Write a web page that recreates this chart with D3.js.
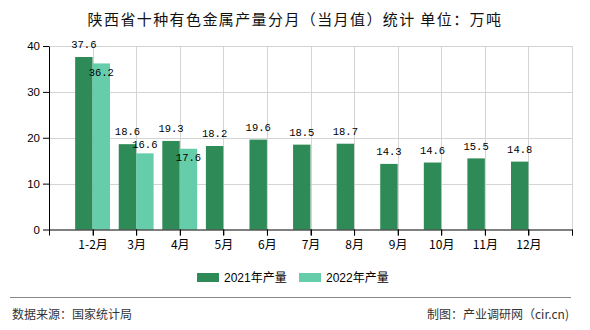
<!DOCTYPE html>
<html><head><meta charset="utf-8">
<script src="https://cdn.jsdelivr.net/npm/d3@7"></script>
<style>
body{margin:0;background:#fff;}
svg{display:block;}
text{font-family:"Liberation Sans","Noto Sans CJK SC",sans-serif;}
text.val{font-family:"Liberation Mono","DejaVu Sans Mono",monospace;font-size:10.5px;}
</style></head>
<body><svg id="c" width="590" height="330"></svg>
<script>
const categories = ["1-2月","3月","4月","5月","6月","7月","8月","9月","10月","11月","12月"];
const values2021 = [37.6,18.6,19.3,18.2,19.6,18.5,18.7,14.3,14.6,15.5,14.8];
const values2022 = [36.2,16.6,17.6,null,null,null,null,null,null,null,null];
const seriesNames = ["2021年产量","2022年产量"];
const yTicks = [0,10,20,30,40];
const colors = ["#2e8b57","#66cdaa"];

const svg = d3.select("#c");
const L = 49, R = 572, T = 46, B = 229.5;
const x = d3.scalePoint().domain(categories).range([L, R]).padding(1);
const y = d3.scaleLinear().domain([0, 40]).range([B, T]);
const step = x.step();
const bw = step * 0.4;

// title
svg.append("text").attr("x", 295).attr("y", 25).attr("text-anchor","middle")
  .style("font-family","'Noto Sans CJK SC',sans-serif").style("font-size","15px")
  .style("letter-spacing","1.4px").attr("fill","#111")
  .text("陕西省十种有色金属产量分月（当月值）统计 单位：万吨");

// grid
const g = svg.append("g");
g.selectAll(".hg").data(yTicks.filter(d=>d>0)).enter().append("line")
  .attr("x1", L).attr("x2", R).attr("y1", d=>Math.round(y(d))+0.5).attr("y2", d=>Math.round(y(d))+0.5)
  .attr("stroke","#d4d4d4");
const vpos = d3.range(1, categories.length + 2).map(i => L + i*step);
g.selectAll(".vg").data(vpos).enter().append("line")
  .attr("x1", d=>Math.round(d)+0.5).attr("x2", d=>Math.round(d)+0.5).attr("y1", T).attr("y2", B)
  .attr("stroke","#d4d4d4");

// bars
const bars = svg.append("g");
bars.selectAll(".b1").data(categories).enter().append("rect")
  .attr("x", d=>x(d)-bw).attr("width", bw)
  .attr("y", (d,i)=>y(values2021[i])).attr("height",(d,i)=>B-y(values2021[i]))
  .attr("fill", colors[0]);
bars.selectAll(".b2").data(categories.filter((d,i)=>values2022[i]!=null)).enter().append("rect")
  .attr("x", d=>x(d)).attr("width", bw)
  .attr("y", (d,i)=>y(values2022[i])).attr("height",(d,i)=>B-y(values2022[i]))
  .attr("fill", colors[1]);

// axes
const yAxis = svg.append("g").attr("transform",`translate(${L},0)`)
  .call(d3.axisLeft(y).tickValues(yTicks).tickSize(6).tickSizeOuter(0).tickPadding(3));
yAxis.selectAll("text").style("font-size","11.5px").attr("fill","#000");
yAxis.selectAll("path,line").attr("stroke","#000");

const xAxis = svg.append("g").attr("transform",`translate(0,${B})`)
  .call(d3.axisBottom(x).tickSize(6).tickSizeOuter(6).tickPadding(5));
xAxis.selectAll("text").style("font-family","'Noto Sans CJK SC',sans-serif").style("font-size","12px").attr("fill","#000");
xAxis.selectAll("path,line").attr("stroke","#000");
xAxis.selectAll(".bt").data(vpos).enter().append("line")
  .attr("x1", d=>Math.round(d)+0.5).attr("x2", d=>Math.round(d)+0.5).attr("y1",0).attr("y2",6).attr("stroke","#000");

// value labels
const lab = svg.append("g");
const off = 12.5, lh = 12.5;
const c21 = categories.map((c,i)=>({cx:x(c)-bw/2, cy:y(values2021[i])-off, v:values2021[i]}));
lab.selectAll(".l1").data(c21).enter().append("text").attr("class","val")
  .attr("x", d=>d.cx).attr("y", d=>d.cy).attr("dy","0.35em").attr("text-anchor","middle").attr("fill","#000")
  .text(d=>d.v.toFixed(1));
const c22 = [];
categories.forEach((c,i)=>{
  const v = values2022[i]; if (v==null) return;
  const top = y(v);
  let cy = top - off;
  const other = c21[i].cy;
  const diff = cy - other;
  if (Math.abs(diff) < lh) {
    if (diff < 8.5) cy = top + 8.5; else cy = other + lh;
  }
  c22.push({cx:x(c)+bw/2, cy, v});
});
lab.selectAll(".l2").data(c22).enter().append("text").attr("class","val")
  .attr("x", d=>d.cx).attr("y", d=>d.cy).attr("dy","0.35em").attr("text-anchor","middle").attr("fill","#000")
  .text(d=>d.v.toFixed(1));

// legend
const lg = svg.append("g");
const lx = [197, 299];
seriesNames.forEach((n,i)=>{
  lg.append("rect").attr("x", lx[i]).attr("y", 273).attr("width", 22).attr("height", 9).attr("fill", colors[i]);
  lg.append("text").attr("x", lx[i]+27).attr("y", 277.5).attr("dy","0.35em")
    .style("font-size","12px").attr("fill","#000").text(n);
});

// footer
svg.append("line").attr("x1",10).attr("x2",571).attr("y1",297.5).attr("y2",297.5).attr("stroke","#888").attr("stroke-width",1);
svg.append("text").attr("x",12).attr("y",315).attr("dy","0.35em")
  .style("font-family","'Noto Sans CJK SC',sans-serif").style("font-size","12px").attr("fill","#333").text("数据来源：国家统计局");
svg.append("text").attr("x",569).attr("y",315).attr("dy","0.35em").attr("text-anchor","end")
  .style("font-family","'Noto Sans CJK SC',sans-serif").style("font-size","12px").attr("fill","#333").text("制图：产业调研网（cir.cn)");
</script></body></html>
